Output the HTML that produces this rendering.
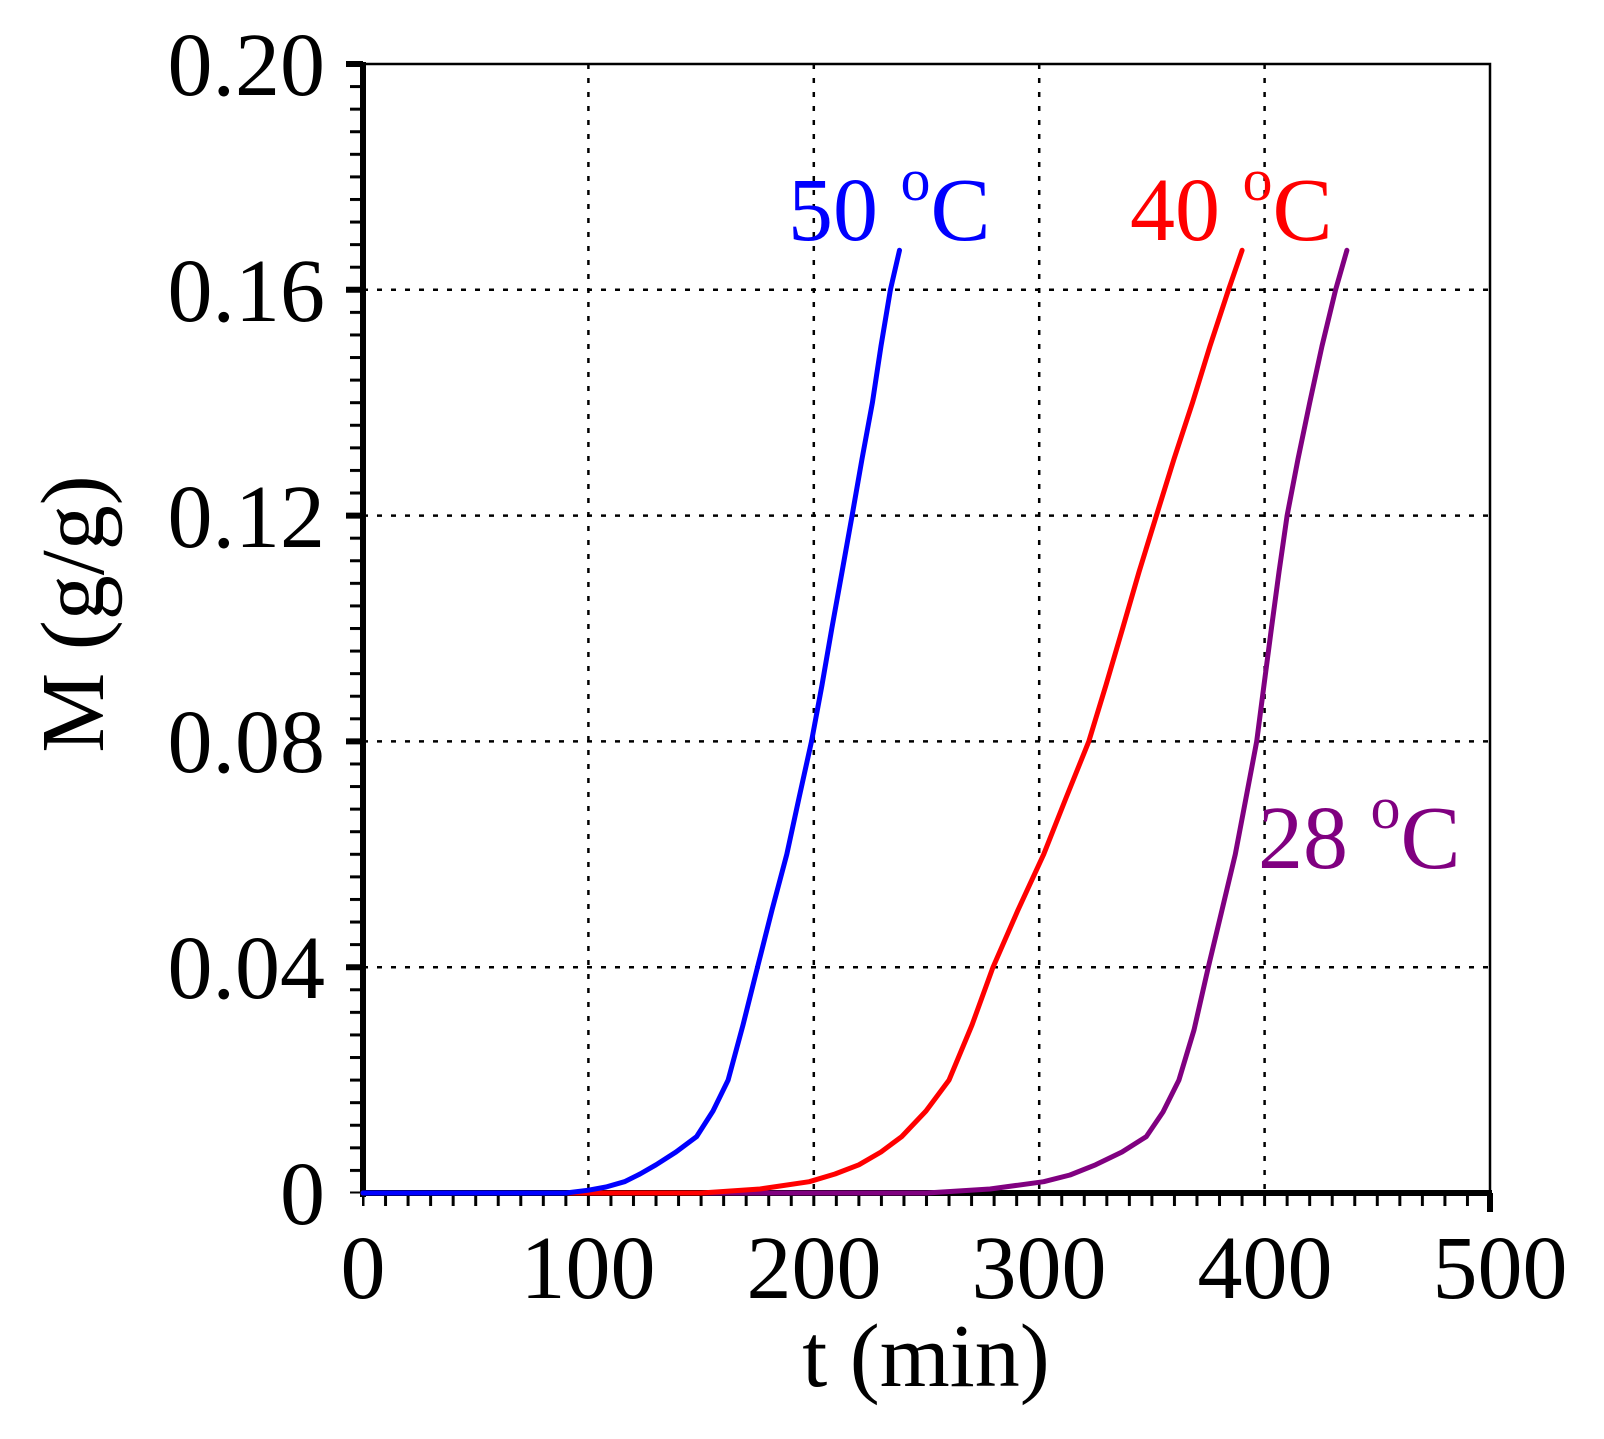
<!DOCTYPE html>
<html><head><meta charset="utf-8"><style>
html,body{margin:0;padding:0;background:#fff;}
svg{display:block;}
text{font-family:"Liberation Serif",serif;}
</style></head><body>
<svg width="1604" height="1439" viewBox="0 0 1604 1439" xmlns="http://www.w3.org/2000/svg">
<defs>
<pattern id="yt" patternUnits="userSpaceOnUse" x="0" y="1193" width="20" height="22.58">
<rect x="0" y="0" width="20" height="3" fill="#000"/>
</pattern>
<pattern id="xt" patternUnits="userSpaceOnUse" x="363" y="0" width="22.54" height="20">
<rect x="-1.5" y="0" width="3" height="20" fill="#000"/>
<rect x="21.04" y="0" width="3" height="20" fill="#000"/>
</pattern>
</defs>
<rect width="1604" height="1439" fill="#fff"/>
<g stroke="#000" stroke-width="2.5" stroke-dasharray="5,9">
<line x1="588.4" y1="64" x2="588.4" y2="1193"/>
<line x1="813.8" y1="64" x2="813.8" y2="1193"/>
<line x1="1039.2" y1="64" x2="1039.2" y2="1193"/>
<line x1="1264.6" y1="64" x2="1264.6" y2="1193"/>
<line x1="363" y1="967.2" x2="1490" y2="967.2"/>
<line x1="363" y1="741.4" x2="1490" y2="741.4"/>
<line x1="363" y1="515.6" x2="1490" y2="515.6"/>
<line x1="363" y1="289.8" x2="1490" y2="289.8"/>
</g>
<rect x="363" y="64" width="1127" height="1129" fill="none" stroke="#000" stroke-width="2.5"/>
<rect x="350" y="62" width="13" height="1133" fill="url(#yt)" transform="translate(0,-1.5)"/>
<rect x="362" y="1193" width="1130" height="13" fill="url(#xt)"/>
<g stroke="#000" stroke-width="6">
<line x1="346" y1="64" x2="363" y2="64"/><line x1="346" y1="289.8" x2="363" y2="289.8"/>
<line x1="346" y1="515.6" x2="363" y2="515.6"/><line x1="346" y1="741.4" x2="363" y2="741.4"/>
<line x1="346" y1="967.2" x2="363" y2="967.2"/>
<line x1="1490" y1="1193" x2="1490" y2="1212"/>
</g>
<line x1="363" y1="62" x2="363" y2="1197" stroke="#000" stroke-width="6"/>
<line x1="360" y1="1193" x2="1492" y2="1193" stroke="#000" stroke-width="6"/>
<g fill="none" stroke-width="5" stroke-linejoin="round" stroke-linecap="round">
<polyline stroke="#800080" points="363,1193 926.5,1193 990,1189 1043.7,1181.7 1070,1175 1095.6,1164.8 1122,1152 1146.3,1136.6 1163,1112 1178.9,1080.1 1194,1030 1208.3,967.2 1222,910 1235.3,854.3 1246,798 1256.7,741.4 1264,685 1271.4,628.5 1279,572 1287.1,515.6 1298,459 1309.7,402.7 1322,346 1335.6,289.8 1346.9,250.3"/>
<polyline stroke="#ff0000" points="363,1193 701.1,1193 760,1189 809.3,1181.7 835,1174 858.9,1164.8 881,1152 901.7,1136.6 926,1111 949,1080.1 972,1025 993,967.2 1018,910 1043.7,854.3 1066,798 1088.8,741.4 1106,685 1122.6,628.5 1139,572 1156.4,515.6 1174,459 1192.5,402.7 1210,346 1228.5,289.8 1242.1,250.3"/>
<polyline stroke="#0000ff" points="363,1193 565.9,1193 588.4,1190.2 606,1187 624.5,1181.7 640,1174 656,1164.8 676,1152 696.6,1136.6 713,1111 728.1,1080.1 743,1025 757.5,967.2 772,910 786.8,854.3 799,798 811.5,741.4 822,685 831.8,628.5 842,572 852.1,515.6 862,459 872.4,402.7 881,346 890.4,289.8 899.5,250.3"/>
</g>
<g font-size="90" fill="#000" text-anchor="end">
<text x="325" y="95">0.20</text>
<text x="325" y="321">0.16</text>
<text x="325" y="547">0.12</text>
<text x="325" y="772">0.08</text>
<text x="325" y="998">0.04</text>
<text x="325" y="1224">0</text>
</g>
<g font-size="90" fill="#000" text-anchor="middle">
<text x="363" y="1298">0</text>
<text x="588" y="1298">100</text>
<text x="814" y="1298">200</text>
<text x="1039" y="1298">300</text>
<text x="1265" y="1298">400</text>
<text x="1500" y="1298">500</text>
<text x="926" y="1386">t (min)</text>
<text transform="translate(103,614) rotate(-90)">M (g/g)</text>
</g>
<g font-size="90">
<text x="788" y="240" fill="#0000ff">50 <tspan font-size="60" dy="-40">o</tspan><tspan dy="40">C</tspan></text>
<text x="1130" y="240" fill="#ff0000">40 <tspan font-size="60" dy="-40">o</tspan><tspan dy="40">C</tspan></text>
<text x="1258" y="868" fill="#800080">28 <tspan font-size="60" dy="-40">o</tspan><tspan dy="40">C</tspan></text>
</g>
</svg>
</body></html>
